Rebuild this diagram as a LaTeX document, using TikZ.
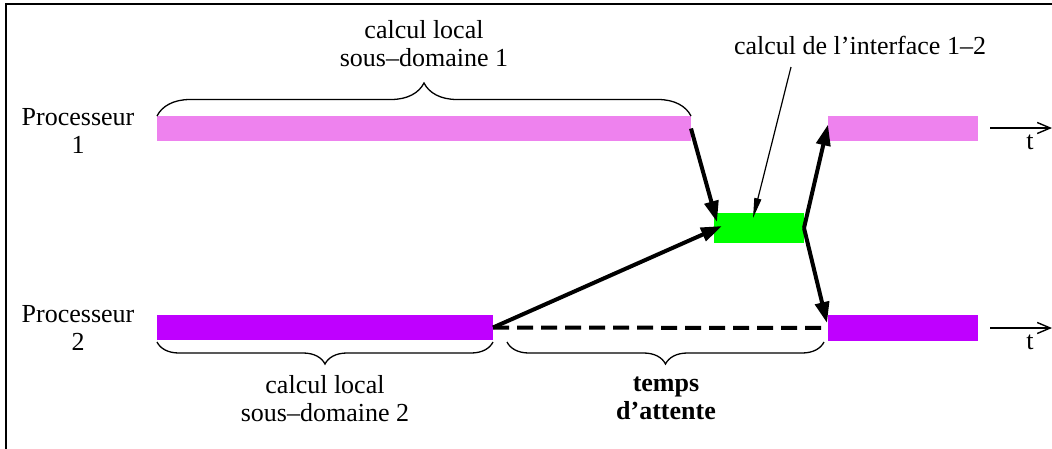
\documentclass[tikz,border=0pt]{standalone}
\usepackage{fontspec}
\setmainfont{Liberation Serif}
\usetikzlibrary{arrows.meta,decorations.pathreplacing,calc}
\definecolor{pinkc}{HTML}{EE82EE}
\definecolor{purplec}{HTML}{BF00FF}
\definecolor{greenc}{HTML}{00FF00}
\begin{document}
\begin{tikzpicture}[x=1pt,y=-1pt,
  txt/.style={font=\fontsize{26}{28}\selectfont, align=center, inner sep=0pt},
  bar/.style={draw=none, inner sep=0pt, outer sep=0pt, anchor=north west},
  msg/.style={line width=4pt, -{Triangle[length=21pt,width=14pt]}},
  taxis/.style={line width=1.4pt, -{Straight Barb[length=13pt,width=11pt]}},
  bracetop/.style={decorate, decoration={brace, amplitude=#1}, line width=1.3pt},
  waitline/.style={line width=4pt, dash pattern=on 16pt off 8pt}
]
\useasboundingbox (0,0) rectangle (1052,448);
\draw[line width=2pt] (6,4) rectangle (1080,480);

% bars
\node[bar, fill=pinkc, minimum width=534pt, minimum height=25pt] (p1) at (157,116) {};
\node[bar, fill=pinkc, minimum width=150pt, minimum height=25pt] (q1) at (828,116) {};
\node[bar, fill=greenc, minimum width=90pt, minimum height=30pt] (g) at (714,213) {};
\node[bar, fill=purplec, minimum width=336pt, minimum height=25pt] (p2) at (157,315) {};
\node[bar, fill=purplec, minimum width=150pt, minimum height=26pt] (q2) at (828,315) {};

% labels
\node[txt] (lab1) at (424,44) {calcul local\\sous--domaine 1};
\node[txt] (proc1) at (78,131) {Processeur\\1};
\node[txt] (proc2) at (78,328) {Processeur\\2};
\node[txt] (lab2) at (325,399) {calcul local\\sous--domaine 2};
\node[txt, font=\fontsize{26}{28}\selectfont\bfseries] (wait) at (666,398) {temps\\d'attente};
\node[txt] (iface) at (860,45) {calcul de l'interface 1--2};

% time axes
\coordinate (t1s) at (990,128);
\coordinate (t1e) at (1052,128);
\coordinate (t2s) at (990,328);
\coordinate (t2e) at (1052,328);
\draw[taxis] (t1s) -- (t1e);
\draw[taxis] (t2s) -- (t2e);
\node[txt] (tl1) at (1030,142) {t};
\node[txt] (tl2) at (1030,342) {t};

% braces
\draw[bracetop=33pt] (p1.north west) -- (p1.north east);
\draw[bracetop=22pt] ($(p2.south east)+(0,2)$) -- ($(p2.south west)+(0,2)$);
\coordinate (w1) at (507,342);
\coordinate (w2) at (824,342);
\draw[bracetop=22pt] (w2) -- (w1);

% messages
\coordinate (gin1) at (717,222);
\coordinate (gin2) at (722,226);
\draw[msg] (p1.east) -- (gin1);
\draw[msg] (p2.east) -- (gin2);
\draw[msg] (g.east) -- ($(q1.west)+(0,-4)$);
\draw[msg] (g.east) -- ($(q2.west)+(-1,-5)$);
\draw[waitline] (p2.east) -- (q2.west);

% pointer
\coordinate (ptr) at (791,67);
\coordinate (ptrend) at (753,218);
\draw[line width=1.2pt, -{Triangle[length=20pt,width=7pt]}] (ptr) -- (ptrend);
\end{tikzpicture}
\end{document}
